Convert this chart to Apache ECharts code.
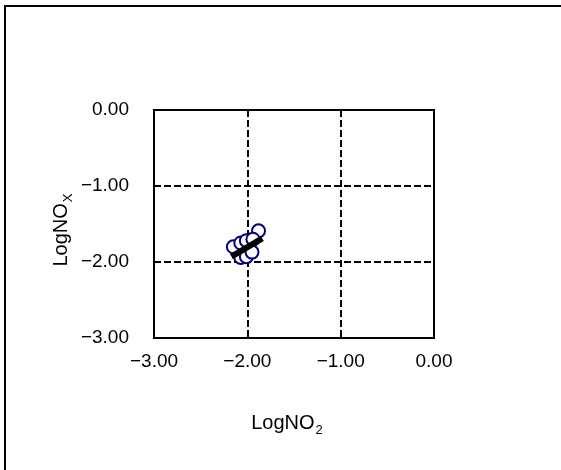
<!DOCTYPE html>
<html>
<head>
<meta charset="utf-8">
<script src="https://cdn.jsdelivr.net/npm/echarts@6/dist/echarts.min.js"></script>
<style>html,body{margin:0;padding:0;background:#fff}#c{width:561px;height:470px}</style>
</head>
<body>
<div id="c"></div>
<script>
// Data
var pointsX = [-1.88, -2.15, -2.07, -2.01, -1.94, -2.07, -2.01, -1.95];
var pointsY = [-1.59, -1.80, -1.75, -1.72, -1.70, -1.94, -1.93, -1.87];
var lineX = [-2.17, -1.84];
var lineY = [-1.93, -1.69];
var xTicks = [-3, -2, -1, 0];
var yTicks = [-3, -2, -1, 0];

var scatterData = pointsX.map(function (x, i) { return [x, pointsY[i]]; });
var lineData = lineX.map(function (x, i) { return [x, lineY[i]]; });
function fmt(v) { return v.toFixed(2).replace('-', '\u2212'); }

var FONT = 'Liberation Sans, Arial, sans-serif';
var chart = echarts.init(document.getElementById('c'), null, { renderer: 'canvas' });
chart.setOption({
  animation: false,
  backgroundColor: '#fff',
  grid: { left: 154, top: 110, right: 127, bottom: 132, show: true, borderColor: '#000', borderWidth: 2, backgroundColor: 'transparent' },
  xAxis: {
    type: 'value', min: xTicks[0], max: xTicks[xTicks.length - 1], interval: 1,
    axisLine: { show: true, lineStyle: { color: '#000', width: 2 } },
    axisTick: { show: false },
    axisLabel: { color: '#000', fontSize: 19, fontFamily: FONT, margin: 14, formatter: fmt },
    splitLine: { show: true, lineStyle: { color: '#000', width: 2, type: [7, 3] } }
  },
  yAxis: {
    type: 'value', min: yTicks[0], max: yTicks[yTicks.length - 1], interval: 1,
    axisLine: { show: true, lineStyle: { color: '#000', width: 2 } },
    axisTick: { show: false },
    axisLabel: { color: '#000', fontSize: 19, fontFamily: FONT, margin: 25, formatter: fmt },
    splitLine: { show: true, lineStyle: { color: '#000', width: 2, type: [7, 3] } }
  },
  graphic: [
    { type: 'rect', z: -10, shape: { x: 5, y: 6, width: 700, height: 700 }, style: { fill: 'none', stroke: '#000', lineWidth: 2 } },
    { type: 'text', x: 287, y: 421, style: {
        text: '{m|LogNO}{s|2}', align: 'center', verticalAlign: 'middle',
        rich: { m: { fontSize: 20, fontFamily: FONT, fill: '#000', verticalAlign: 'bottom', lineHeight: 24 },
                s: { fontSize: 13, fontFamily: FONT, fill: '#000', verticalAlign: 'bottom', lineHeight: 24, padding: [0,0,-4,1] } } } },
    { type: 'text', x: 59, y: 230, rotation: Math.PI / 2, style: {
        text: '{m|LogNO}{s|X}', align: 'center', verticalAlign: 'middle',
        rich: { m: { fontSize: 20, fontFamily: FONT, fill: '#000', verticalAlign: 'bottom', lineHeight: 24 },
                s: { fontSize: 13, fontFamily: FONT, fill: '#000', verticalAlign: 'bottom', lineHeight: 24, padding: [0,0,-4,1] } } } }
  ],
  series: [
    { type: 'scatter', data: scatterData, symbol: 'circle', symbolSize: 13, z: 2,
      itemStyle: { color: '#fff', borderColor: '#000080', borderWidth: 2, opacity: 1 } },
    { type: 'line', data: lineData, symbol: 'none', z: 3,
      lineStyle: { color: '#000', width: 6 } }
  ]
});
</script>
</body>
</html>
